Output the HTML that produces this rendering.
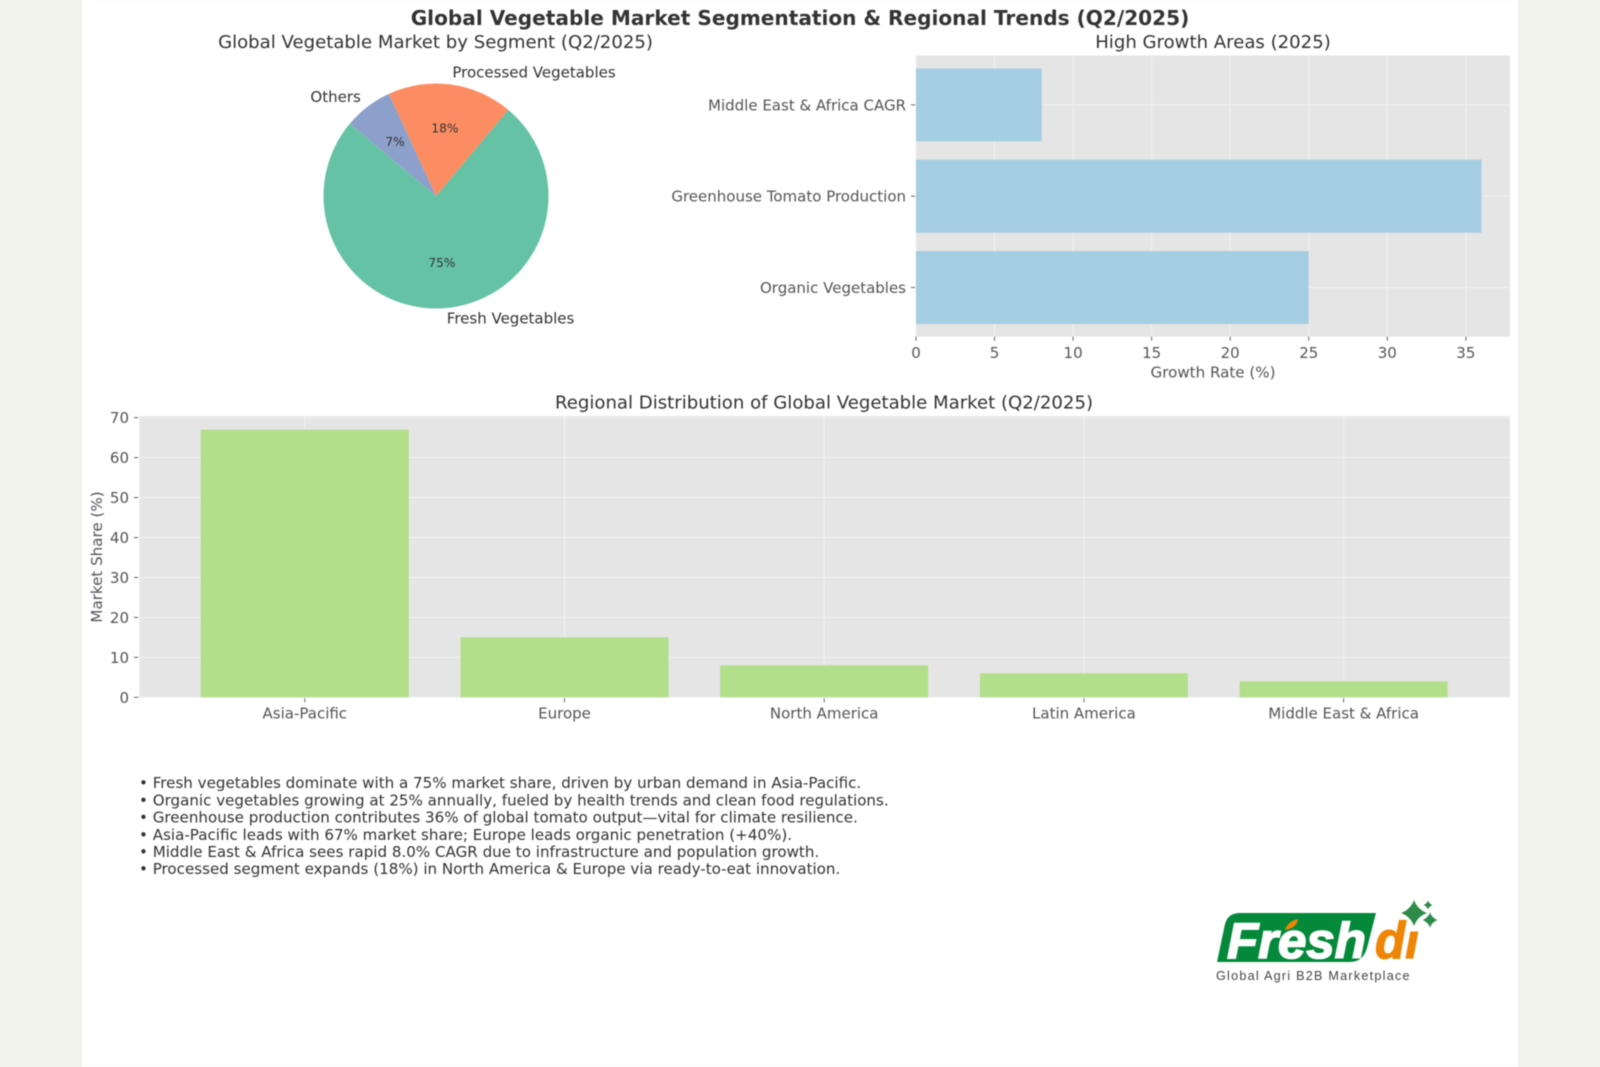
<!DOCTYPE html>
<html lang="en">
<head>
<meta charset="utf-8">
<title>Global Vegetable Market Segmentation &amp; Regional Trends (Q2/2025)</title>
<style>
html,body{margin:0;padding:0;width:1600px;height:1067px;overflow:hidden;background:#f1f2ec;}
svg{display:block;filter:blur(0.4px);}
text{font-family:"DejaVu Sans","Liberation Sans",sans-serif;}
</style>
</head>
<body>
<svg id="chart" xmlns="http://www.w3.org/2000/svg" width="1600" height="1067" viewBox="0 0 1600 1067">
  <rect x="0" y="0" width="1600" height="1067" fill="#f1f2ec"/>
  <rect x="82" y="0" width="1436" height="1067" fill="#ffffff"/>
  <text x="800" y="25" text-anchor="middle" font-size="20.1" font-weight="bold" fill="#333333">Global Vegetable Market Segmentation &amp; Regional Trends (Q2/2025)</text>
  <g id="pie"></g>
  <g id="hbar"></g>
  <g id="vbar"></g>
  <g id="notes" font-size="15.1" fill="#333333">
    <text x="139" y="788.2">• Fresh vegetables dominate with a 75% market share, driven by urban demand in Asia-Pacific.</text>
    <text x="139" y="805.4">• Organic vegetables growing at 25% annually, fueled by health trends and clean food regulations.</text>
    <text x="139" y="822.6">• Greenhouse production contributes 36% of global tomato output—vital for climate resilience.</text>
    <text x="139" y="839.8">• Asia-Pacific leads with 67% market share; Europe leads organic penetration (+40%).</text>
    <text x="139" y="857">• Middle East &amp; Africa sees rapid 8.0% CAGR due to infrastructure and population growth.</text>
    <text x="139" y="874.2">• Processed segment expands (18%) in North America &amp; Europe via ready-to-eat innovation.</text>
  </g>
  <g id="logo">
    <path d="M1217 962 L1225 924 Q1228 913 1240 913 L1376 913 L1367 948 Q1363 962 1350 962 Z" fill="#04893b"/>
    <text x="1227" y="958" font-size="50" font-weight="bold" font-style="italic" fill="#ffffff" stroke="#ffffff" stroke-width="1.6" style="font-family:'Liberation Sans',sans-serif" textLength="139" lengthAdjust="spacingAndGlyphs">Fresh</text>
    <path d="M1285 930 Q1288 921 1298 919 Q1297 928 1285 930 Z" fill="#ee8504"/>
    <text x="1375" y="958" font-size="52" font-weight="bold" font-style="italic" fill="#ee8504" stroke="#ee8504" stroke-width="1.2" style="font-family:'Liberation Sans',sans-serif" textLength="44" lengthAdjust="spacingAndGlyphs">di</text>
    <rect x="1408" y="916" width="16" height="15.5" fill="#ffffff"/>
    <path d="M1414 900 Q1417.5 909.5 1427 913 Q1417.5 916.5 1414 926 Q1410.5 916.5 1401 913 Q1410.5 909.5 1414 900 Z" fill="#2e8b4a"/>
    <path d="M1430 912.5 Q1432 918 1437.5 920 Q1432 922 1430 927.5 Q1428 922 1422.5 920 Q1428 918 1430 912.5 Z" fill="#2e8b4a"/>
    <path d="M1428 900.5 Q1429.2 903.8 1432.5 905 Q1429.2 906.2 1428 909.5 Q1426.8 906.2 1423.5 905 Q1426.8 903.8 1428 900.5 Z" fill="#2e8b4a"/>
    <text x="1216" y="980" font-size="12.6" fill="#444444" letter-spacing="1.25" style="font-family:'Liberation Sans',sans-serif">Global Agri B2B Marketplace</text>
  </g>
</svg>
<script>
const pieLabels = ['Fresh Vegetables', 'Processed Vegetables', 'Others'];
const pieValues = [75, 18, 7];
const growthCategories = ['Organic Vegetables', 'Greenhouse Tomato Production', 'Middle East & Africa CAGR'];
const growthValues = [25, 36, 8];
const growthTicks = [0, 5, 10, 15, 20, 25, 30, 35];
const regionCategories = ['Asia-Pacific', 'Europe', 'North America', 'Latin America', 'Middle East & Africa'];
const regionValues = [67, 15, 8, 6, 4];
const regionTicks = [0, 10, 20, 30, 40, 50, 60, 70];

const NS = 'http://www.w3.org/2000/svg';
function mk(tag, attrs, parent, txt) {
  const el = document.createElementNS(NS, tag);
  for (const k in attrs) el.setAttribute(k, attrs[k]);
  if (txt !== undefined) el.textContent = txt;
  parent.appendChild(el);
  return el;
}
function slug(s) {
  return String(s).toLowerCase().replace(/[^a-z0-9]+/g, '-').replace(/^-|-$/g, '');
}
const GREY = '#555555';
const DARK = '#333333';
const GRID = '#f2f2f2';

/* ---------- pie ---------- */
const pieGroup = document.getElementById('pie');
const pieCx = 436, pieCy = 196, pieR = 112.5;
const pieColors = ['#66c2a5', '#fc8d62', '#8da0cb'];
const pieStart = 140;
function pieAngleSpan(v) {
  const total = pieValues.reduce((a, b) => a + b, 0);
  return v / total * 360;
}
function polarX(deg, r) { return pieCx + r * Math.cos(deg * Math.PI / 180); }
function polarY(deg, r) { return pieCy - r * Math.sin(deg * Math.PI / 180); }

let pieTitle = mk('text', {x: 435.5, y: 48, 'text-anchor': 'middle', 'font-size': 18.1, fill: DARK}, pieGroup, 'Global Vegetable Market by Segment (Q2/2025)');



let angleCursor = pieStart;
pieValues.forEach(function (v, i) {
  const span = pieAngleSpan(v);
  const a0 = angleCursor, a1 = angleCursor + span, mid = (a0 + a1) / 2;
  angleCursor = a1;
  const d = 'M' + pieCx + ' ' + pieCy +
    ' L' + polarX(a0, pieR) + ' ' + polarY(a0, pieR) +
    ' A' + pieR + ' ' + pieR + ' 0 ' + (span > 180 ? 1 : 0) + ' 0 ' + polarX(a1, pieR) + ' ' + polarY(a1, pieR) + ' Z';
  const slice = mk('path', {d: d, fill: pieColors[i]}, pieGroup);
  
  

  const cosv = Math.cos(mid * Math.PI / 180);
  const label = mk('text', {
    x: polarX(mid, pieR * 1.1), y: polarY(mid, pieR * 1.1) + 4.2,
    'text-anchor': cosv >= 0 ? 'start' : 'end', 'font-size': 15, fill: DARK
  }, pieGroup, pieLabels[i]);
  
  

  const pct = mk('text', {
    x: polarX(mid, pieR * 0.6), y: polarY(mid, pieR * 0.6) + 3.6,
    'text-anchor': 'middle', 'font-size': 12.2, fill: DARK
  }, pieGroup, Math.round(v) + '%');
  
  
});

/* ---------- horizontal bars ---------- */
const hGroup = document.getElementById('hbar');
const hLeft = 916, hRight = 1510, hTop = 55.5, hBottom = 336.7;
function growthX(v) { return 916 + v * 15.71; }
function growthY(i) { return 287.5 - i * 91.3; }
const growthBand = 73;

let hBg = mk('rect', {x: hLeft, y: hTop, width: hRight - hLeft, height: hBottom - hTop, fill: '#e5e5e5'}, hGroup);



let hTitle = mk('text', {x: 1213, y: 48, 'text-anchor': 'middle', 'font-size': 18.1, fill: DARK}, hGroup, 'High Growth Areas (2025)');



growthTicks.forEach(function (t) {
  const x = growthX(t);
  const grid = mk('line', {x1: x, x2: x, y1: hTop, y2: hBottom, stroke: GRID, 'stroke-width': 1}, hGroup);
  
  
  const tick = mk('line', {x1: x, x2: x, y1: hBottom, y2: hBottom + 4, stroke: GREY, 'stroke-width': 0.9}, hGroup);
  
  
  const lab = mk('text', {x: x, y: 358, 'text-anchor': 'middle', 'font-size': 15, fill: GREY}, hGroup, String(t));
  
  
});

growthCategories.forEach(function (c, i) {
  const y = growthY(i);
  const grid = mk('line', {x1: hLeft, x2: hRight, y1: y, y2: y, stroke: GRID, 'stroke-width': 1}, hGroup);
  
  
  const tick = mk('line', {x1: hLeft - 5, x2: hLeft - 1, y1: y, y2: y, stroke: GREY, 'stroke-width': 0.9}, hGroup);
  
  
  const lab = mk('text', {x: 906, y: y + 5.5, 'text-anchor': 'end', 'font-size': 15, fill: GREY}, hGroup, c);
  
  
});

growthValues.forEach(function (v, i) {
  const bar = mk('rect', {
    x: growthX(0), y: growthY(i) - growthBand / 2,
    width: growthX(v) - growthX(0), height: growthBand, fill: '#a6cee3'
  }, hGroup);
  
  
});

let hXLabel = mk('text', {x: 1213, y: 377.5, 'text-anchor': 'middle', 'font-size': 15.1, fill: GREY}, hGroup, 'Growth Rate (%)');



/* ---------- vertical bars ---------- */
const vGroup = document.getElementById('vbar');
const vLeft = 139.3, vRight = 1510, vTop = 416, vBottom = 697.3;
function regionX(i) { return 304.8 + i * 259.7; }
function regionY(v) { return vBottom - v * 3.995; }
const regionBand = 208;

let vBg = mk('rect', {x: vLeft, y: vTop, width: vRight - vLeft, height: vBottom - vTop, fill: '#e5e5e5'}, vGroup);



let vTitle = mk('text', {x: 824, y: 408.3, 'text-anchor': 'middle', 'font-size': 18.1, fill: DARK}, vGroup, 'Regional Distribution of Global Vegetable Market (Q2/2025)');



regionTicks.forEach(function (t) {
  const y = regionY(t);
  const grid = mk('line', {x1: vLeft, x2: vRight, y1: y, y2: y, stroke: GRID, 'stroke-width': 1}, vGroup);
  
  
  const tick = mk('line', {x1: 134, x2: 138.3, y1: y, y2: y, stroke: GREY, 'stroke-width': 0.9}, vGroup);
  
  
  const lab = mk('text', {x: 129, y: y + 5.5, 'text-anchor': 'end', 'font-size': 15, fill: GREY}, vGroup, String(t));
  
  
});

regionCategories.forEach(function (c, i) {
  const x = regionX(i);
  const grid = mk('line', {x1: x, x2: x, y1: vTop, y2: vBottom, stroke: GRID, 'stroke-width': 1}, vGroup);
  
  
  const tick = mk('line', {x1: x, x2: x, y1: vBottom + 1, y2: vBottom + 5, stroke: GREY, 'stroke-width': 0.9}, vGroup);
  
  
  const lab = mk('text', {x: x, y: 718.3, 'text-anchor': 'middle', 'font-size': 15, fill: GREY}, vGroup, c);
  
  
});

regionValues.forEach(function (v, i) {
  const bar = mk('rect', {
    x: regionX(i) - regionBand / 2, y: regionY(v),
    width: regionBand, height: regionY(0) - regionY(v), fill: '#b2df8a'
  }, vGroup);
  
  
});

let vYLabel = mk('text', {
  x: 0, y: 0, 'text-anchor': 'middle', 'font-size': 15.1, fill: GREY,
  transform: 'translate(102 557) rotate(-90)'
}, vGroup, 'Market Share (%)');


</script>
</body>
</html>
